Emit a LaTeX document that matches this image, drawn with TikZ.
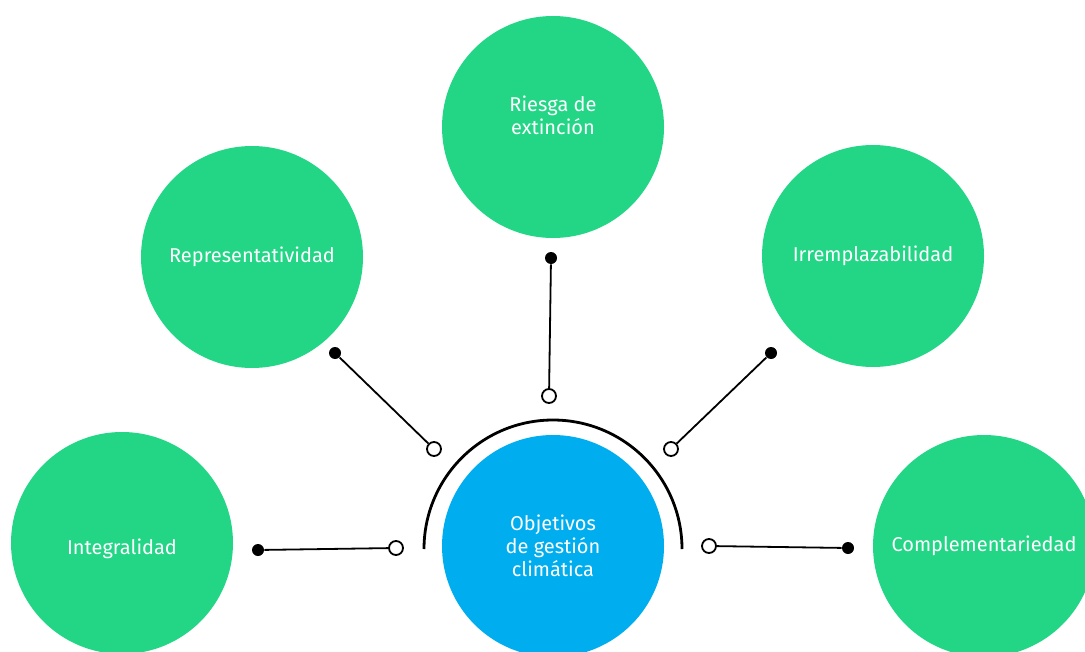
\documentclass[tikz,border=0pt]{standalone}
\usepackage{fontspec}
\setmainfont{Fira Sans}
\usepackage{xcolor}
\usetikzlibrary{positioning}
\definecolor{leaf}{RGB}{34,214,134}
\definecolor{sky}{RGB}{0,174,239}
\tikzset{%
	bubble/.style   = {circle, fill=leaf, minimum size=111pt, inner sep=0pt, text=white, align=center, font=\fontsize{10}{11.5}\selectfont}, % Topic
	hub/.style      = {bubble, fill=sky}, % Centre
	tag/.style      = {text=white, align=center, font=\fontsize{10}{11.5}\selectfont}, % Shifted text
	opendot/.style  = {circle, draw, line width=0.9pt, fill=white, minimum size=7pt, inner sep=0pt}, % Inner end
	fulldot/.style  = {circle, fill=black, minimum size=6pt, inner sep=0pt}, % Outer end
	link/.style     = {line width=0.9pt},
	hubarc/.style   = {line width=1.4pt},
}
\begin{document}
\begin{tikzpicture}[x=0.5pt,y=-0.5pt]
	\clip (0,0) rectangle (1085,652);
	\node [hub] (obj) at (553,546) {Objetivos\\de gestión\\climática};
	\node [bubble,label={[tag,yshift=-3pt]center:Integralidad}] (integ) at (122,543) {};
	\node [bubble] (repre) at (252,257) {Representatividad};
	\node [bubble,label={[tag,yshift=6pt]center:Riesga de\\extinción}] (riesgo) at (553,127) {};
	\node [bubble] (irrem) at (873,256) {Irremplazabilidad};
	\node [bubble] (compl) at (984,546) {Complementariedad};
	
	\coordinate (hubc) at (553,549);
	\draw [hubarc] ([xshift=-64.5pt]hubc) arc [start angle=180,end angle=0,radius=64.5pt];
	
	\node [opendot] (o1) at (396,548) {};
	\node [opendot] (o2) at (434,449) {};
	\node [opendot] (o3) at (549,396) {};
	\node [opendot] (o4) at (671,449) {};
	\node [opendot] (o5) at (709,546) {};
	\node [fulldot] (f1) at (258,550) {};
	\node [fulldot] (f2) at (335,353) {};
	\node [fulldot] (f3) at (551,258) {};
	\node [fulldot] (f4) at (771,353) {};
	\node [fulldot] (f5) at (848,548) {};
	
	\draw [link] (o1) -- (f1);
	\draw [link] (o2) -- (f2);
	\draw [link] (o3) -- (f3);
	\draw [link] (o4) -- (f4);
	\draw [link] (o5) -- (f5);
\end{tikzpicture}
\end{document}
